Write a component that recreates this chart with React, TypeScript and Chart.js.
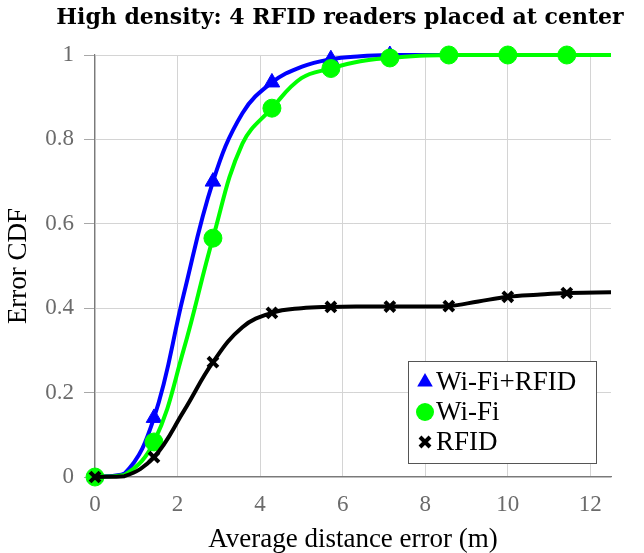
import React, { useEffect, useRef } from "react";
import { Chart, registerables } from "chart.js";

Chart.register(...registerables);

const TITLE = "High density: 4 RFID readers placed at center";
const X_TITLE = "Average distance error (m)";
const Y_TITLE = "Error CDF";
const SERIES_NAMES = ["Wi-Fi+RFID", "Wi-Fi", "RFID"];

const xValues = [0, 0.714, 1.429, 2.143, 2.857, 3.571, 4.286, 5.0, 5.714, 6.429, 7.143, 7.857, 8.571, 9.286, 10.0, 10.714, 11.429, 12.143, 12.857];
const wifiRfid = [0, 0.008, 0.14, 0.43, 0.70, 0.862, 0.935, 0.972, 0.99, 0.997, 1.0, 1.0, 1.0, 1.0, 1.0, 1.0, 1.0, 1.0, 1.0];
const wifi = [0, 0.005, 0.083, 0.30, 0.566, 0.79, 0.874, 0.945, 0.968, 0.985, 0.993, 0.998, 1.0, 1.0, 1.0, 1.0, 1.0, 1.0, 1.0];
const rfid = [0, 0.002, 0.047, 0.155, 0.272, 0.355, 0.389, 0.400, 0.403, 0.404, 0.404, 0.404, 0.405, 0.416, 0.427, 0.432, 0.436, 0.437, 0.439];

const xTicks = [0, 2, 4, 6, 8, 10, 12];
const yTicks = [0, 0.2, 0.4, 0.6, 0.8, 1];

const BLUE = "#0000ff";
const GREEN = "#00ff00";
const BLACK = "#000000";
const SERIF = '"Liberation Serif", serif';
const TITLE_FONT = 'bold 22px "DejaVu Serif", serif';

const markerEvery = (r: number) => (ctx: any) => (ctx.dataIndex % 2 === 0 ? r : 0);

function drawMarker(ctx: CanvasRenderingContext2D, style: string, x: number, y: number, color: string) {
  ctx.save();
  ctx.fillStyle = color;
  ctx.strokeStyle = color;
  if (style === "triangle") {
    const r = 9;
    ctx.beginPath();
    ctx.moveTo(x, y - r);
    ctx.lineTo(x + r * 0.866, y + r * 0.5);
    ctx.lineTo(x - r * 0.866, y + r * 0.5);
    ctx.closePath();
    ctx.fill();
  } else if (style === "circle") {
    ctx.beginPath();
    ctx.arc(x, y, 9, 0, Math.PI * 2);
    ctx.fill();
  } else {
    const d = 5;
    ctx.lineWidth = 4;
    ctx.beginPath();
    ctx.moveTo(x - d, y - d);
    ctx.lineTo(x + d, y + d);
    ctx.moveTo(x + d, y - d);
    ctx.lineTo(x - d, y + d);
    ctx.stroke();
  }
  ctx.restore();
}

const overlayPlugin = {
  id: "overlay",
  afterDraw(chart: any) {
    const ctx: CanvasRenderingContext2D = chart.ctx;
    const { left, right, top, bottom } = chart.chartArea;
    ctx.save();
    ctx.fillStyle = "#000";
    ctx.textBaseline = "middle";
    ctx.textAlign = "center";
    ctx.font = TITLE_FONT;
    ctx.fillText(TITLE, 340, 18);

    ctx.font = `27px ${SERIF}`;
    ctx.fillText(X_TITLE, (left + right) / 2, 540);

    ctx.save();
    ctx.translate(19, (top + bottom) / 2);
    ctx.rotate(-Math.PI / 2);
    ctx.fillText(Y_TITLE, 0, 0);
    ctx.restore();

    // legend
    const bx = 408, by = 361, bw = 188, bh = 102;
    ctx.fillStyle = "#ffffff";
    ctx.fillRect(bx, by, bw, bh);
    ctx.strokeStyle = "#555555";
    ctx.lineWidth = 1;
    ctx.strokeRect(bx + 0.5, by + 0.5, bw, bh);
    const styles = ["triangle", "circle", "crossRot"];
    const colors = [BLUE, GREEN, BLACK];
    ctx.textAlign = "left";
    ctx.font = `27px ${SERIF}`;
    SERIES_NAMES.forEach((name, i) => {
      const y = by + 21 + i * 30;
      drawMarker(ctx, styles[i], 425, y, colors[i]);
      ctx.fillStyle = "#000";
      ctx.fillText(name, 436, y + 1);
    });
    ctx.restore();
  },
};

export default function App() {
  const ref = useRef<HTMLCanvasElement | null>(null);
  useEffect(() => {
    if (!ref.current) return;
    const toPts = (arr: number[]) => xValues.map((x, i) => ({ x, y: arr[i] }));
    const clip = { left: false, top: false, right: 0, bottom: false } as any;
    const common = { borderWidth: 4, tension: 0.4, clip };
    const chart = new Chart(ref.current, {
      type: "line",
      data: {
        datasets: [
          {
            ...common,
            label: SERIES_NAMES[0],
            data: toPts(wifiRfid),
            borderColor: BLUE,
            backgroundColor: BLUE,
            pointStyle: "triangle",
            pointRadius: markerEvery(9),
            pointBorderWidth: 1,
            order: 3,
          },
          {
            ...common,
            label: SERIES_NAMES[1],
            data: toPts(wifi),
            borderColor: GREEN,
            backgroundColor: GREEN,
            pointStyle: "circle",
            pointRadius: markerEvery(9),
            pointBorderWidth: 1,
            order: 2,
          },
          {
            ...common,
            label: SERIES_NAMES[2],
            data: toPts(rfid),
            borderColor: BLACK,
            backgroundColor: BLACK,
            pointStyle: "crossRot",
            pointRadius: markerEvery(7),
            pointBorderWidth: 4,
            order: 1,
          },
        ],
      },
      options: {
        animation: false,
        responsive: false,
        devicePixelRatio: window.devicePixelRatio || 1,
        layout: { padding: { top: 55, right: 33, left: 0, bottom: 0 } },
        plugins: {
          legend: { display: false },
          title: { display: false },
          tooltip: { enabled: false },
        },
        scales: {
          x: {
            type: "linear",
            min: 0,
            max: 12.5,
            afterBuildTicks: (s: any) => {
              s.ticks = xTicks.map((v) => ({ value: v }));
            },
            afterFit: (s: any) => {
              s.height = 76;
            },
            grid: { color: "#d4d4d4", lineWidth: 1, drawTicks: false },
            border: { color: "#7a7a7a", width: 1.2 },
            ticks: {
              color: "#6b6b6b",
              font: { family: SERIF, size: 23 },
              padding: 14,
              maxRotation: 0,
              callback: (v: any) => String(v),
            },
          },
          y: {
            type: "linear",
            min: 0,
            max: 1,
            afterBuildTicks: (s: any) => {
              s.ticks = yTicks.map((v) => ({ value: v }));
            },
            afterFit: (s: any) => {
              s.width = 95;
            },
            grid: { color: "#d4d4d4", lineWidth: 1, tickLength: 11, tickColor: "#a8a8a8" },
            border: { color: "#7a7a7a", width: 1.2 },
            ticks: {
              color: "#6b6b6b",
              font: { family: SERIF, size: 23 },
              padding: 10,
              callback: (v: any) => String(Math.round(v * 10) / 10),
            },
          },
        },
      },
      plugins: [overlayPlugin],
    } as any);
    return () => chart.destroy();
  }, []);
  return (
    <div style={{ position: "absolute", left: 0, top: 0, width: 644, height: 553, background: "#fff" }}>
      <canvas ref={ref} width={644} height={553} style={{ width: 644, height: 553, display: "block" }} />
    </div>
  );
}
